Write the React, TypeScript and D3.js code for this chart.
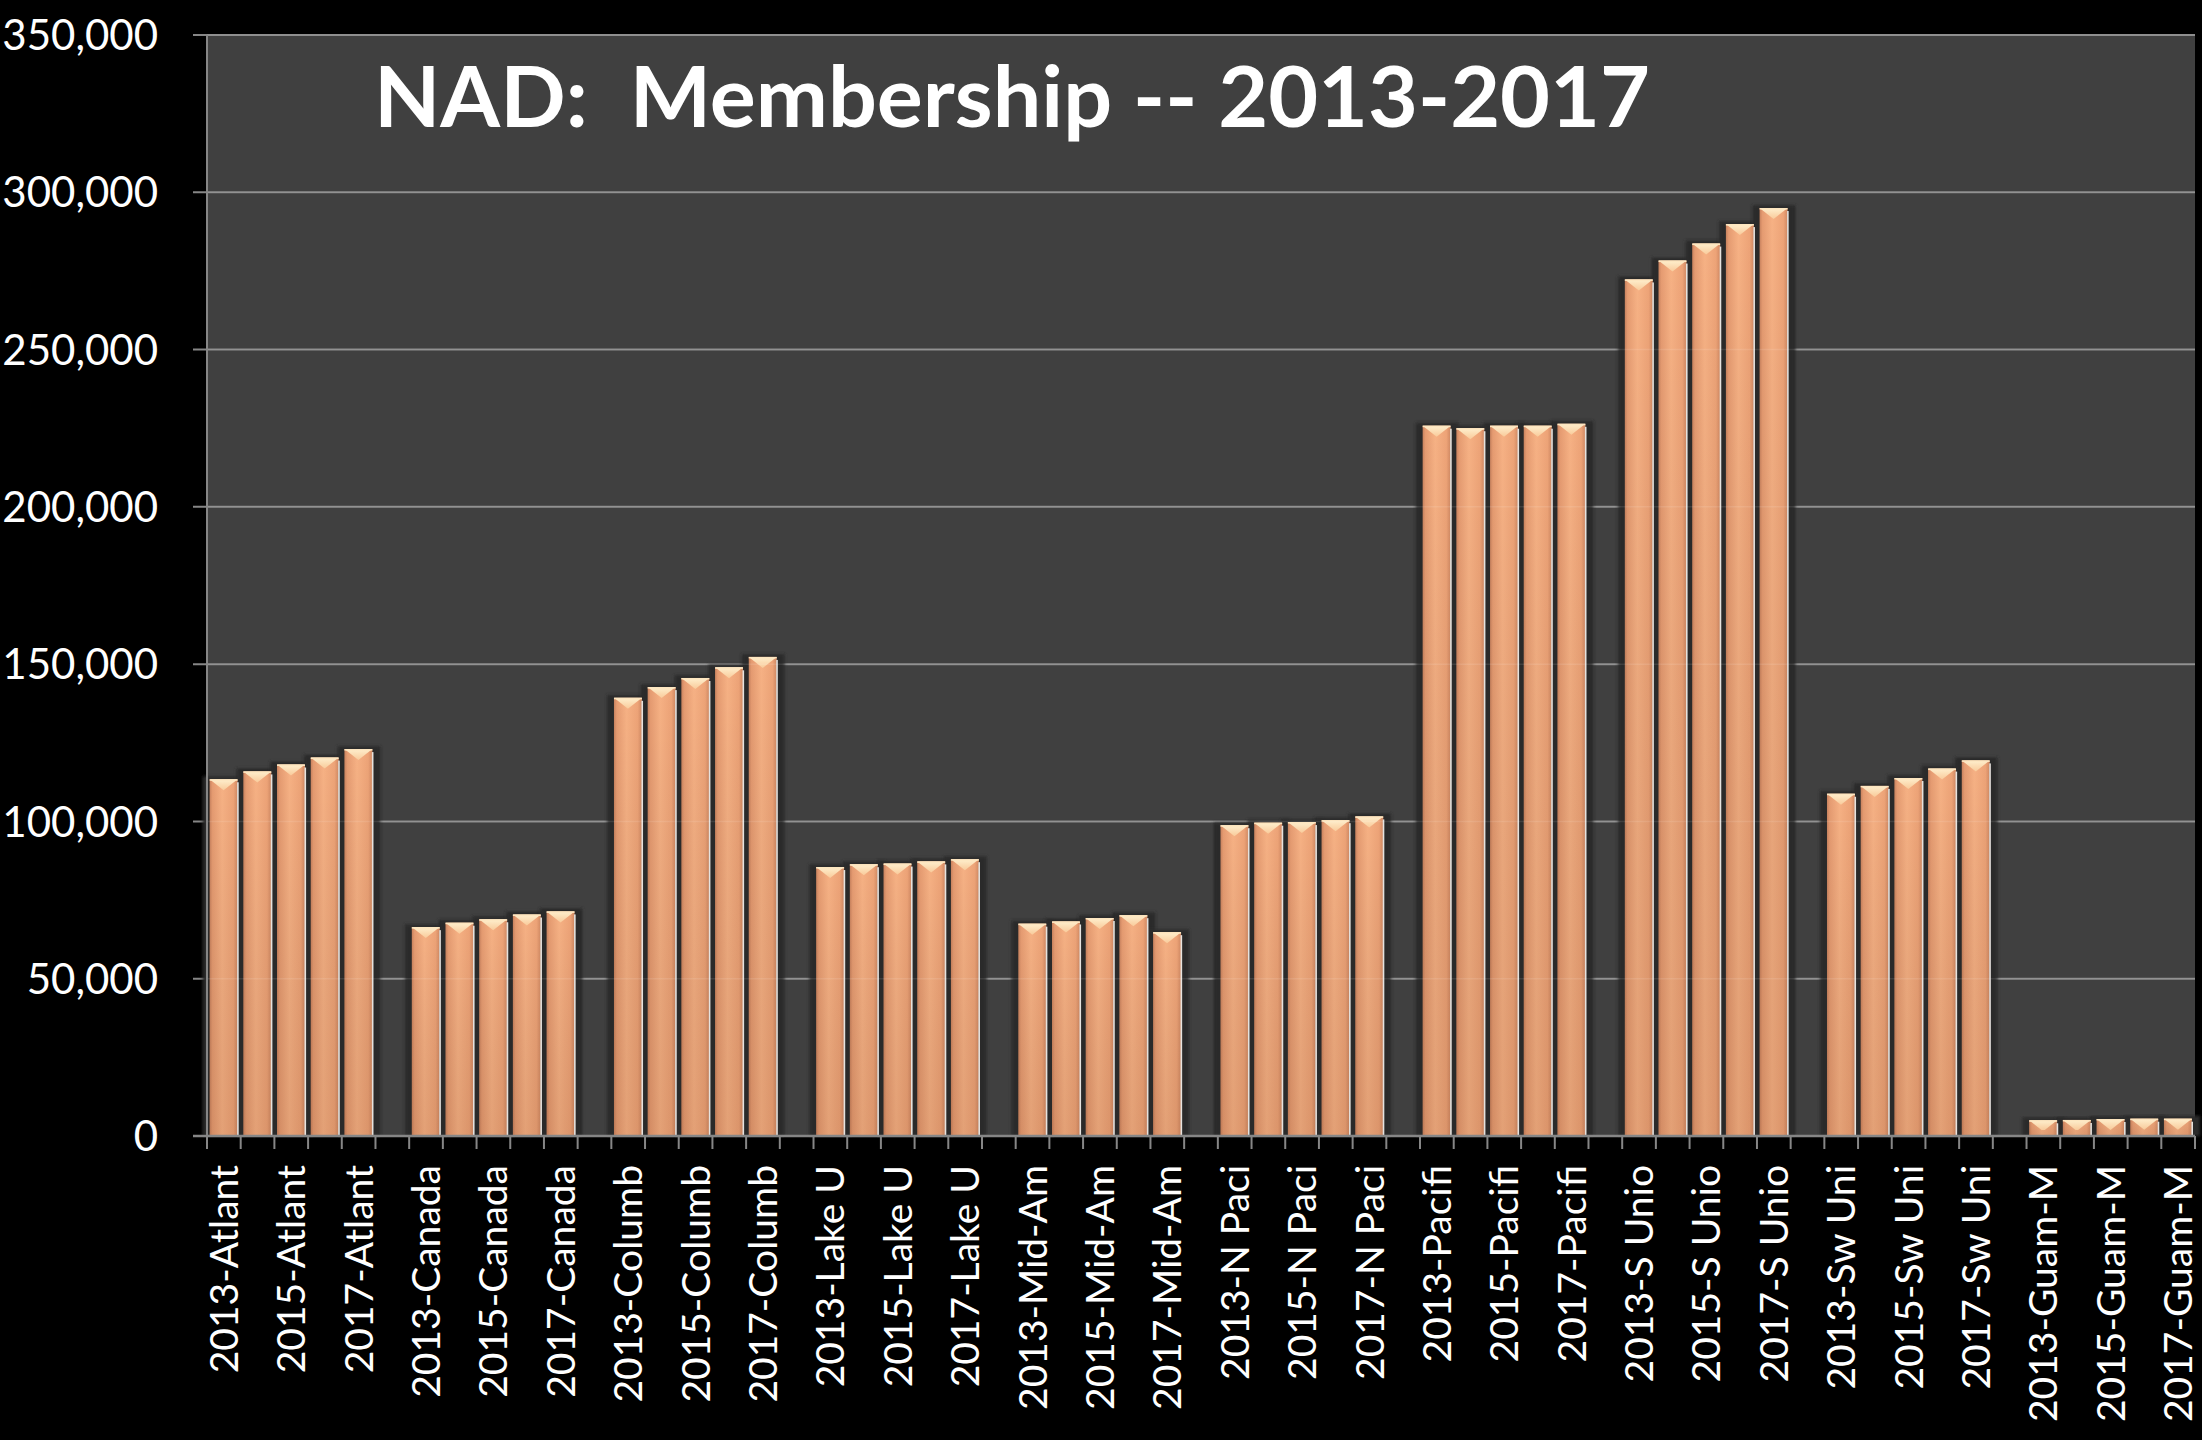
import React, { useEffect } from "react";
import * as d3 from "d3";

const groups = ["Atlant", "Canada", "Columb", "Lake U", "Mid-Am", "N Paci", "Pacifi", "S Unio", "Sw Uni", "Guam-M"];
const years = ["2013", "2014", "2015", "2016", "2017"];

const atlant = [113400, 115900, 118100, 120300, 123000];
const canada = [66400, 67800, 68900, 70400, 71400];
const columb = [139300, 142700, 145600, 149000, 152300];
const lakeU = [85500, 86400, 86600, 87300, 88000];
const midAm = [67500, 68200, 69300, 70200, 64800];
const nPaci = [98800, 99600, 99800, 100400, 101600];
const pacifi = [225800, 225000, 225800, 225800, 226400];
const sUnio = [272300, 278300, 283700, 289900, 295000];
const swUni = [108800, 111300, 113800, 116800, 119400];
const guamM = [5000, 5100, 5400, 5500, 5500];

const groupValues = [atlant, canada, columb, lakeU, midAm, nPaci, pacifi, sUnio, swUni, guamM];
const yTicks = [0, 50000, 100000, 150000, 200000, 250000, 300000, 350000];
const title = "NAD:  Membership -- 2013-2017";

type Cat = { key: string; label: string; value: number | null };

const categories: Cat[] = [];
groups.forEach((g, gi) => {
  years.forEach((yr, yi) => {
    categories.push({ key: `${yr}-${g}`, label: `${yr}-${g}`, value: groupValues[gi][yi] });
  });
  if (gi < groups.length - 1) categories.push({ key: `blank-${gi}`, label: "", value: null });
});

const W = 2202;
const H = 1440;
const plotL = 207;
const plotR = 2195;
const plotT = 35;
const plotB = 1136;

export default function App() {
  useEffect(() => {
    document.body.style.margin = "0";
    document.body.style.background = "#000";
  }, []);

  const x = d3.scaleBand<string>().domain(categories.map((c) => c.key)).range([plotL, plotR]).padding(0);
  const y = d3.scaleLinear().domain([0, 350000]).range([plotB, plotT]);
  const bw = x.bandwidth();
  const fmt = d3.format(",");
  const font = "Lato, 'Open Sans', sans-serif";
  const boundaries = d3.range(categories.length + 1).map((i) => plotL + i * bw);

  const bars = categories
    .filter((c) => c.value !== null)
    .map((c) => {
      const bx = (x(c.key) as number) + bw * 0.078;
      const w = bw * 0.83;
      const top = y(c.value as number);
      const h = plotB - top;
      return { c, bx, w, top, h };
    });

  return (
    <svg width={W} height={H} style={{ display: "block" }}>
      <defs>
        <linearGradient id="barH" x1="0" y1="0" x2="1" y2="0">
          <stop offset="0" stopColor="#c8825e" />
          <stop offset="0.1" stopColor="#e59b71" />
          <stop offset="0.45" stopColor="#f6b184" />
          <stop offset="0.85" stopColor="#eda377" />
          <stop offset="1" stopColor="#cf8862" />
        </linearGradient>
        <linearGradient id="barV" x1="0" y1="0" x2="0" y2="1">
          <stop offset="0" stopColor="#000" stopOpacity="0" />
          <stop offset="1" stopColor="#5a2a10" stopOpacity="0.12" />
        </linearGradient>
        <linearGradient id="cap" x1="0" y1="0" x2="0" y2="1">
          <stop offset="0" stopColor="#fff3d2" />
          <stop offset="1" stopColor="#f9cc9c" />
        </linearGradient>
        <filter id="blur" x="-20%" y="-5%" width="140%" height="110%">
          <feGaussianBlur stdDeviation="1.5" />
        </filter>
      </defs>
      <rect x={0} y={0} width={W} height={H} fill="#000" />
      <rect x={plotL} y={plotT} width={plotR - plotL} height={plotB - plotT} fill="#404040" />

      {yTicks.map((t) => (
        <line key={`g${t}`} x1={plotL - 14} x2={plotR} y1={y(t)} y2={y(t)} stroke="#868686" strokeWidth={2} />
      ))}

      {bars.map(({ c, bx, w, top, h }) => (
        <rect key={`s${c.key}`} x={bx - 7} y={top - 3} width={w + 15} height={h + 3} fill="#2a2a2a" filter="url(#blur)" />
      ))}

      {bars.map(({ c, bx, w, top, h }) => {
        const depth = 11;
        const dd = Math.min(depth, Math.max(2, h - 6));
        const t = dd / depth;
        const pts = [
          [bx, top],
          [bx + w, top],
          [bx + w - (t * w) / 2, top + dd],
          [bx + (t * w) / 2, top + dd],
        ]
          .map((p) => p.join(","))
          .join(" ");
        return (
          <g key={c.key}>
            <rect x={bx} y={top} width={w} height={h} fill="url(#barH)" />
            <rect x={bx} y={top} width={w} height={h} fill="url(#barV)" />
            <polygon points={pts} fill="url(#cap)" opacity={0.95} />
            <rect x={bx} y={top} width={w} height={1.5} fill="#fde6c0" />
            <rect x={bx + w - 0.5} y={top + 3} width={1.6} height={h - 3} fill="#e6e2de" />
          </g>
        );
      })}

      {yTicks.slice(1).map((t) => (
        <line key={`o${t}`} x1={plotL} x2={plotR} y1={y(t)} y2={y(t)} stroke="#ffffff" strokeOpacity={0.1} strokeWidth={1.5} />
      ))}

      <line x1={plotL} x2={plotL} y1={plotT} y2={plotB} stroke="#868686" strokeWidth={2} />
      <line x1={plotL - 14} x2={plotR} y1={plotB} y2={plotB} stroke="#868686" strokeWidth={2.5} />
      {boundaries.map((bxv, i) => (
        <line key={`t${i}`} x1={bxv} x2={bxv} y1={plotB} y2={plotB + 13} stroke="#868686" strokeWidth={2} />
      ))}

      {yTicks.map((t) => (
        <text key={`yl${t}`} x={158} y={y(t)} dy="0.36em" textAnchor="end" fill="#fff" fontFamily={font} fontSize={42}>
          {fmt(t)}
        </text>
      ))}

      {categories.map((c, i) =>
        i % 2 === 0 && c.label ? (
          <text
            key={`xl${c.key}`}
            transform={`translate(${(x(c.key) as number) + bw / 2},1165) rotate(-90)`}
            textAnchor="end"
            dy="0.36em"
            fill="#fff"
            fontFamily={font}
            fontSize={39}
          >
            {c.label}
          </text>
        ) : null
      )}

      <text
        x={374}
        y={127}
        fill="#fff"
        fontFamily={font}
        fontWeight={700}
        fontSize={85}
        textLength={1276}
        lengthAdjust="spacingAndGlyphs"
        style={{ whiteSpace: "pre" }}
      >
        {title}
      </text>
    </svg>
  );
}
